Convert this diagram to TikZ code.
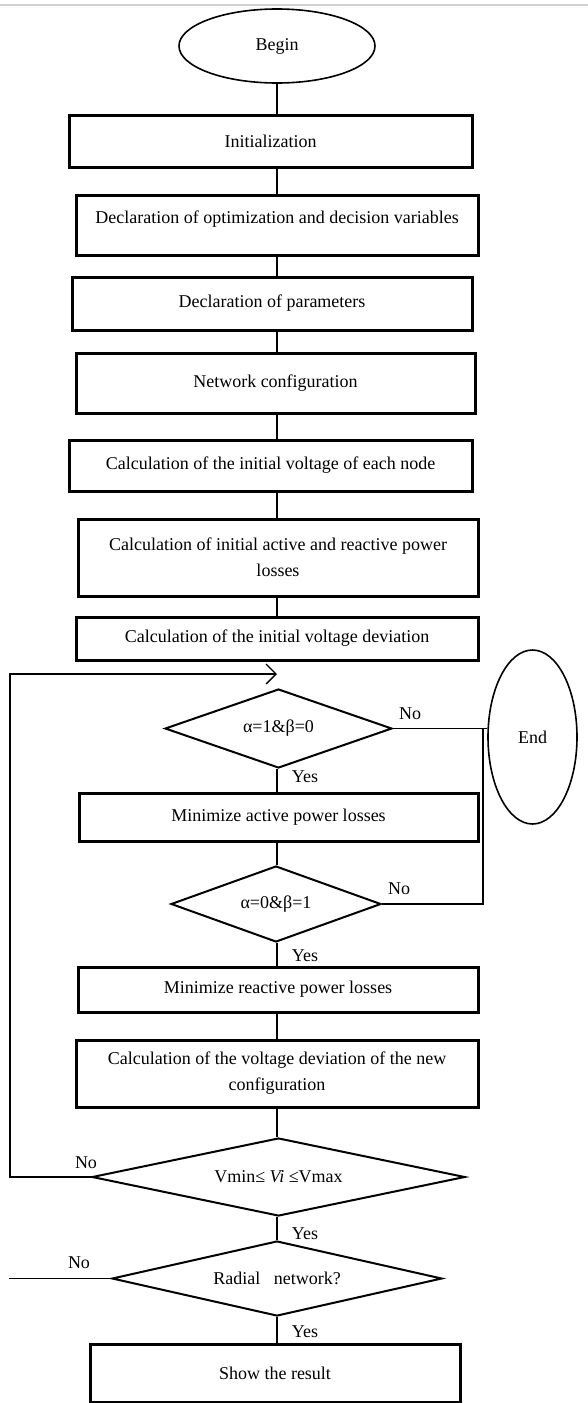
\documentclass[tikz,border=0pt]{standalone}
\usepackage{fontspec}
\setmainfont{Liberation Serif}
\usetikzlibrary{shapes.geometric,arrows.meta}
\begin{document}
\begin{tikzpicture}[x=1pt,y=-1pt,
  every node/.style={font=\fontsize{18}{26}\selectfont, text=black},
  procbox/.style={draw, rectangle, line width=3pt, inner sep=0pt, align=center},
  decision/.style={draw, diamond, line width=2pt, inner sep=0pt},
  terminal/.style={draw, ellipse, line width=1.6pt, inner sep=0pt},
  conn/.style={line width=1.3pt},
  lbl/.style={inner sep=0pt}]
\useasboundingbox (0,0) rectangle (588,1403);
\draw[gray!35, line width=1.5pt] (0,5) -- (588,5);

% nodes
\node[terminal, minimum width=196pt, minimum height=74pt] (begin) at (277,46) {Begin};
\node[procbox, minimum width=403pt, minimum height=52pt] (init) at (270.5,141) {Initialization};
\node[procbox, minimum width=402pt, minimum height=60pt, text depth=16pt] (decl) at (277,225) {Declaration of optimization and decision variables};
\node[procbox, minimum width=400pt, minimum height=53pt] (param) at (272,303.5) {Declaration of parameters};
\node[procbox, minimum width=399pt, minimum height=60pt] (netc) at (275.5,383) {Network configuration};
\node[procbox, minimum width=403pt, minimum height=51pt] (initv) at (270.5,465.5) {Calculation of the initial voltage of each node};
\node[procbox, minimum width=400pt, minimum height=77pt] (initl) at (278,557.5) {Calculation of initial active and reactive power\\losses};
\node[procbox, minimum width=402pt, minimum height=43pt] (initd) at (277,638.5) {Calculation of the initial voltage deviation};

\node[decision, aspect=2.87, minimum width=227pt, minimum height=79pt] (d1) at (278.5,728.5) {α=1\&β=0};
\node[terminal, minimum width=89pt, minimum height=174pt] (endn) at (532.5,737) {End};
\node[procbox, minimum width=399pt, minimum height=48pt] (mina) at (278.5,817) {Minimize active power losses};
\node[decision, aspect=2.76, minimum width=210pt, minimum height=76pt] (d2) at (276,904) {α=0\&β=1};
\node[procbox, minimum width=400pt, minimum height=45pt] (minr) at (278,989.5) {Minimize reactive power losses};
\node[procbox, minimum width=402pt, minimum height=67pt] (newd) at (277,1073.5) {Calculation of the voltage deviation of the new\\configuration};
\node[decision, aspect=4.78, minimum width=373pt, minimum height=78pt] (d3) at (278.5,1177) {Vmin≤ \textit{Vi} ≤Vmax};
\node[decision, aspect=4.4, minimum width=330pt, minimum height=75pt] (d4) at (277,1278.5) {Radial\ \ \ network?};
\node[procbox, minimum width=370pt, minimum height=58pt] (show) at (275,1373) {Show the result};

% labels
\node[lbl] (no1) at (410,714) {No};
\node[lbl] (yes1) at (305,777) {Yes};
\node[lbl] (no2) at (399,889) {No};
\node[lbl] (yes2) at (305,956) {Yes};
\node[lbl] (no3) at (86,1163) {No};
\node[lbl] (yes3) at (305,1234) {Yes};
\node[lbl] (no4) at (79,1263) {No};
\node[lbl] (yes4) at (305,1332) {Yes};

% connectors
\coordinate (spine) at (277,0);
\draw[conn] (spine |- begin.south) -- (spine |- init.north);
\draw[conn] (spine |- init.south) -- (spine |- decl.north);
\draw[conn] (spine |- decl.south) -- (spine |- param.north);
\draw[conn] (spine |- param.south) -- (spine |- netc.north);
\draw[conn] (spine |- netc.south) -- (spine |- initv.north);
\draw[conn] (spine |- initv.south) -- (spine |- initl.north);
\draw[conn] (spine |- initl.south) -- (spine |- initd.north);
\draw[conn] (spine |- d1.south) -- (spine |- mina.north);
\draw[conn] (spine |- mina.south) -- (spine |- d2.north);
\draw[conn] (spine |- d2.south) -- (spine |- minr.north);
\draw[conn] (spine |- minr.south) -- (spine |- newd.north);
\draw[conn] (spine |- newd.south) -- (spine |- d3.north);
\draw[conn] (spine |- d3.south) -- (spine |- d4.north);
\draw[conn] (spine |- d4.south) -- (spine |- show.north);

% No branches to End
\coordinate (jx) at (483,0);
\draw[conn] (d1.east) -- (endn.west |- d1.east);
\draw[conn] (d2.east) -- (jx |- d2.east) -- (jx |- d1.east);

% loop back
\coordinate (loopx) at (10,0);
\coordinate (looptip) at (277,674);
\draw[conn, -{Straight Barb[length=10pt,width=20pt,line width=1.3pt]}] (d3.west) -- (loopx |- d3.west) -- (loopx |- looptip) -- (looptip);

% radial No
\coordinate (radend) at (9,1278.5);
\draw[conn] (d4.west) -- (radend);
\end{tikzpicture}
\end{document}
